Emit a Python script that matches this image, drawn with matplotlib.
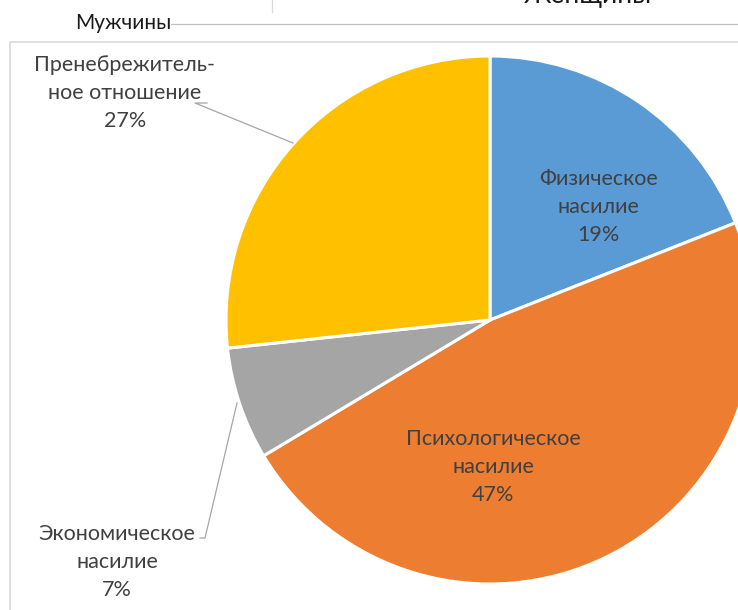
import matplotlib
matplotlib.use("Agg")
import matplotlib.pyplot as plt

# ---- data ----
categories = ["Физическое\nнасилие", "Психологическое\nнасилие",
              "Экономическое\nнасилие", "Пренебрежитель-\nное отношение"]
shares = [19.0, 47.4, 6.9, 26.7]          # slice sizes
colors = ["#5B9BD5", "#ED7D31", "#A5A5A5", "#FFC000"]
title_left = "Мужчины"
title_right = "Женщины"

W, H = 738, 610
fig = plt.figure(figsize=(W / 100, H / 100), dpi=100)
ax = fig.add_axes([0, 0, 1, 1])

def Y(y):  # image (top-down) -> data (bottom-up)
    return H - y

cx, cy, R = 490, 320, 264
ax.pie(shares, colors=colors, startangle=90, counterclock=False,
       center=(cx, Y(cy)), radius=R,
       wedgeprops=dict(edgecolor="white", linewidth=2.2))

ax.set_xlim(0, W)
ax.set_ylim(0, H)
ax.axis("off")

FONT = ["Lato", "DejaVu Sans"]
tc = "#404040"
fs = 15.5

# label positions (image coords, text-block centers)
label_pos = [(598, 207), (493, 467), (117, 562), (125, 93)]
for cat, s, (lx, ly) in zip(categories, shares, label_pos):
    ax.text(lx, Y(ly), f"{cat}\n{s:.0f}%", ha="center", va="center",
            fontsize=fs, color=tc, family=FONT, linespacing=1.5)

# leader lines
lc = "#A6A6A6"
ax.plot([207, 195, 293], [Y(103), Y(103), Y(143)], color=lc, lw=0.9)
ax.plot([200, 205, 237], [Y(538), Y(538), Y(403)], color=lc, lw=0.9)

# chart frame (extends beyond the crop)
ax.plot([10, 10, W + 5], [Y(H + 5), Y(42), Y(42)], color="#D9D9D9", lw=1.2,
        clip_on=False)

# header fragments
ax.text(75, Y(23), title_left, ha="left", va="center", fontsize=15,
        color="#1a1a1a", family=FONT)
ax.plot([171, W], [Y(24), Y(24)], color="#BFBFBF", lw=0.9)
ax.plot([272, 272], [Y(0), Y(12)], color="#D9D9D9", lw=0.9)
ax.text(588, Y(3), title_right, ha="center", va="baseline", fontsize=19,
        color="#1a1a1a", family=FONT)

fig.savefig("out.png", dpi=100)
